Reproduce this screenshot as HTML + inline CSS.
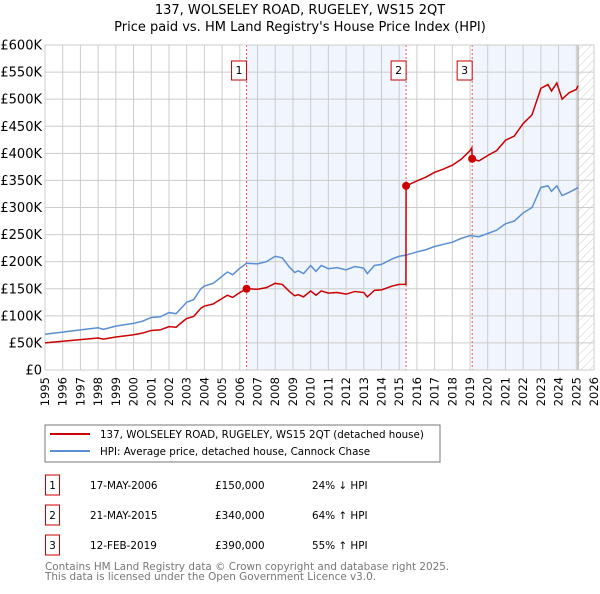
<!DOCTYPE html>
<html><head><meta charset="utf-8"><style>
body{margin:0;background:#fff;font-family:"DejaVu Sans","Liberation Sans",sans-serif;}
svg text{font-family:"DejaVu Sans","Liberation Sans",sans-serif;}
</style></head><body>
<svg id="c" width="600" height="590" viewBox="0 0 600 590" xmlns="http://www.w3.org/2000/svg">
<defs><pattern id="hatch" width="6" height="6" patternUnits="userSpaceOnUse" patternTransform="rotate(45)"><line x1="0" y1="0" x2="0" y2="6" stroke="#ccc" stroke-width="1"/></pattern></defs>
<text x="300" y="14" text-anchor="middle" font-size="13">137, WOLSELEY ROAD, RUGELEY, WS15 2QT</text>
<text x="300" y="31" text-anchor="middle" font-size="13">Price paid vs. HM Land Registry's House Price Index (HPI)</text>
<g id="plot"></g>
<rect x="45" y="425" width="395" height="37" fill="#fff" stroke="#777"/>
<line x1="50" y1="434" x2="90" y2="434" stroke="#cc0000" stroke-width="2"/>
<text x="100" y="438" font-size="10.3">137, WOLSELEY ROAD, RUGELEY, WS15 2QT (detached house)</text>
<line x1="50" y1="451" x2="90" y2="451" stroke="#5b8fd4" stroke-width="2"/>
<text x="100" y="455" font-size="10.3">HPI: Average price, detached house, Cannock Chase</text>
<g font-size="10.4">
<rect x="45.5" y="475" width="14" height="20" fill="none" stroke="#cc0000"/><text x="52.5" y="489" text-anchor="middle">1</text>
<text x="90" y="489">17-MAY-2006</text><text x="215" y="489">£150,000</text><text x="312" y="489">24% ↓ HPI</text>
<rect x="45.5" y="505" width="14" height="20" fill="none" stroke="#cc0000"/><text x="52.5" y="519" text-anchor="middle">2</text>
<text x="90" y="519">21-MAY-2015</text><text x="215" y="519">£340,000</text><text x="312" y="519">64% ↑ HPI</text>
<rect x="45.5" y="535" width="14" height="20" fill="none" stroke="#cc0000"/><text x="52.5" y="549" text-anchor="middle">3</text>
<text x="90" y="549">12-FEB-2019</text><text x="215" y="549">£390,000</text><text x="312" y="549">55% ↑ HPI</text>
</g>
<text x="45" y="570" font-size="10.4" fill="#777">Contains HM Land Registry data © Crown copyright and database right 2025.</text>
<text x="45" y="580" font-size="10.4" fill="#777">This data is licensed under the Open Government Licence v3.0.</text>
</svg>
<script>
const hpiDates=[1995,1996,1997,1998,1998.3,1999,2000,2000.5,2001,2001.5,2002,2002.4,2002.8,2003,2003.4,2003.8,2004,2004.5,2005,2005.3,2005.6,2006,2006.38,2007,2007.5,2008,2008.4,2008.8,2009.1,2009.3,2009.6,2010,2010.3,2010.6,2011,2011.5,2012,2012.5,2013,2013.2,2013.6,2014,2014.6,2015,2015.38,2016,2016.5,2017,2017.5,2018,2018.5,2019,2019.5,2020,2020.5,2021,2021.5,2022,2022.5,2023,2023.4,2023.6,2023.9,2024.2,2024.6,2025,2025.1];
const hpiValues=[66,70,74,78,75,81,86,90,97,98,106,104,118,125,130,150,155,160,173,181,176,188,197,196,200,210,207,190,180,183,178,193,182,193,187,189,185,191,188,178,193,195,205,210,212,218,222,228,232,236,243,248,246,252,258,270,275,290,300,337,340,330,340,322,328,335,337];
const priceDates=[1995,1996,1997,1998,1998.3,1999,2000,2000.5,2001,2001.5,2002,2002.4,2002.8,2003,2003.4,2003.8,2004,2004.5,2005,2005.3,2005.6,2006,2006.38,2007,2007.5,2008,2008.4,2008.8,2009.1,2009.3,2009.6,2010,2010.3,2010.6,2011,2011.5,2012,2012.5,2013,2013.2,2013.6,2014,2014.6,2015,2015.38,2015.39,2016,2016.5,2017,2017.5,2018,2018.5,2019,2019.1,2019.12,2019.5,2020,2020.5,2021,2021.5,2022,2022.5,2023,2023.4,2023.6,2023.9,2024.2,2024.6,2025,2025.1];
const priceValues=[50,53,56,59,57,61,65,68,73,74,80,79,90,95,99,114,118,122,132,138,134,143,150,149,152,160,158,145,137,139,135,146,138,146,142,143,140,145,143,135,147,148,155,158,158,340,349,356,365,371,378,389,405,410,390,386,396,405,424,432,455,471,520,527,515,530,500,512,518,525];
const saleDates=[2006.38,2015.39,2019.12];
const saleValues=[150,340,390];
const saleLabels=["1","2","3"];
const yTicks=[0,50,100,150,200,250,300,350,400,450,500,550,600];
const yTickLabels=["£0","£50K","£100K","£150K","£200K","£250K","£300K","£350K","£400K","£450K","£500K","£550K","£600K"];
const xTicks=[1995,1996,1997,1998,1999,2000,2001,2002,2003,2004,2005,2006,2007,2008,2009,2010,2011,2012,2013,2014,2015,2016,2017,2018,2019,2020,2021,2022,2023,2024,2025,2026];

const L=45,R=594,T=45,B=370,X0=1995,X1=2026,YMAX=600,DATA_END=2025.1;
const xs=d=>L+(d-X0)/(X1-X0)*(R-L);
const ys=v=>B-v/YMAX*(B-T);
const NS="http://www.w3.org/2000/svg";
const g=document.getElementById('plot');
function mk(tag,attrs,parent){const e=document.createElementNS(NS,tag);for(const k in attrs)e.setAttribute(k,attrs[k]);(parent||g).appendChild(e);return e;}

let e=mk('rect',{x:L,y:T,width:R-L,height:B-T,fill:'#fff'});


const spans=[[saleDates[0],saleDates[1]],[saleDates[2],DATA_END]];
spans.forEach((s,i)=>{const r=mk('rect',{x:xs(s[0]),y:T,width:xs(s[1])-xs(s[0]),height:B-T,fill:'#eef3fc',opacity:0.8});

});
const h=mk('rect',{x:xs(DATA_END),y:T,width:R-xs(DATA_END),height:B-T,fill:'url(#hatch)'});


yTicks.forEach((v,i)=>{const l=mk('line',{x1:L,x2:R,y1:ys(v),y2:ys(v),stroke:'#ccc','stroke-width':1});


const t=mk('text',{x:L-3,y:ys(v)+4.5,'text-anchor':'end','font-size':13});t.textContent=yTickLabels[i];

});
xTicks.forEach(d=>{const l=mk('line',{x1:xs(d),x2:xs(d),y1:T,y2:B,stroke:'#ccc','stroke-width':1});


const t=mk('text',{x:0,y:0,'text-anchor':'end','font-size':11.5,transform:`translate(${xs(d)+4},377) rotate(-90)`});t.textContent=d;

});
const el=mk('line',{x1:xs(DATA_END),x2:xs(DATA_END),y1:T,y2:B,stroke:'#999','stroke-width':1});


saleDates.forEach((d,i)=>{const l=mk('line',{x1:xs(d),x2:xs(d),y1:T,y2:B,stroke:'#e55','stroke-width':1,'stroke-dasharray':'2,2'});


const r=mk('rect',{x:xs(d)-8-7,y:61,width:15,height:19,fill:'#fff',stroke:'#cc0000'});


const t=mk('text',{x:xs(d)-7.5,y:74,'text-anchor':'middle','font-size':11});t.textContent=saleLabels[i];

});
const a=mk('rect',{x:L,y:T,width:R-L,height:B-T,fill:'none',stroke:'#ccc'});


const hp=mk('polyline',{points:hpiDates.map((d,i)=>xs(d)+','+ys(hpiValues[i])).join(' '),fill:'none',stroke:'#5b8fd4','stroke-width':1.5});


const pp=mk('polyline',{points:priceDates.map((d,i)=>xs(d)+','+ys(priceValues[i])).join(' '),fill:'none',stroke:'#cc0000','stroke-width':1.5});


saleDates.forEach((d,i)=>{const c=mk('circle',{cx:xs(d),cy:ys(saleValues[i]),r:4,fill:'#cc0000'});

});
</script>
</body></html>
